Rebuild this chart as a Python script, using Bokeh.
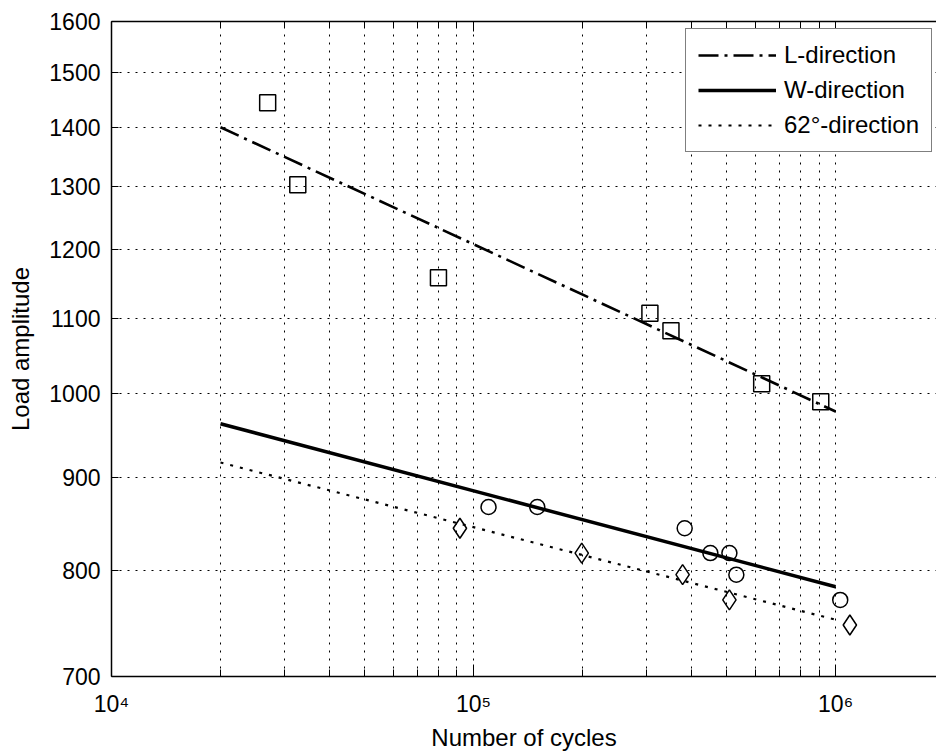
from bokeh.plotting import figure
from bokeh.models import Range1d, FixedTicker, LogAxis, CustomJSTickFormatter
from bokeh.embed import file_html
from bokeh.resources import INLINE

# ---- data ----
l_cycles = [27000, 32700, 80000, 307000, 351000, 625000, 910000]
l_load = [1444, 1302, 1158, 1107, 1083, 1013, 990]

w_cycles = [110000, 150000, 383000, 451000, 509000, 532000, 1030000]
w_load = [867, 867, 844, 818, 818, 796, 771]

d_cycles = [91700, 199000, 378000, 509000, 1095000]
d_load = [844, 818, 796, 771, 747]

fit_cycles = [2e4, 1e6]
l_fit = [1400, 978]
w_fit = [963, 784]
d_fit = [917, 752]

x_major = [1e4, 1e5, 1e6]
x_minor = [m * 10 ** e for e in (4, 5, 6) for m in range(2, 10)]
y_ticks = [700, 800, 900, 1000, 1100, 1200, 1300, 1400, 1500, 1600]

FONT = "Liberation Sans"

p = figure(width=936, height=753, x_axis_type="log", y_axis_type="log",
           x_range=Range1d(1e4, 1.9e6), y_range=Range1d(700, 1600),
           output_backend="svg", toolbar_location=None,
           min_border_left=111, min_border_right=0, min_border_top=21,
           min_border_bottom=77, outline_line_color=None,
           background_fill_color="white", border_fill_color="white")

xticker = FixedTicker(ticks=x_major, minor_ticks=x_minor)
yticker = FixedTicker(ticks=y_ticks, minor_ticks=[])

xf = CustomJSTickFormatter(code="""
const e = Math.round(Math.log10(tick));
const sup = {3: '\\u00b3', 4: '\\u2074', 5: '\\u2075', 6: '\\u2076', 7: '\\u2077'};
return '10' + sup[e];
""")

xa = p.xaxis[0]
xa.ticker = xticker
xa.formatter = xf
xa.axis_label = "Number of cycles"
ya = p.yaxis[0]
ya.ticker = yticker
ya.formatter = CustomJSTickFormatter(code="return tick.toFixed(0);")
ya.axis_label = "Load amplitude"

for ax in (xa, ya):
    ax.axis_line_color = "black"
    ax.axis_line_width = 1.5
    ax.major_tick_line_color = "black"
    ax.minor_tick_line_color = "black"
    ax.major_label_text_font = FONT
    ax.major_label_text_font_size = "23px"
    ax.major_label_text_color = "black"
    ax.axis_label_text_font = FONT
    ax.axis_label_text_font_size = "24px"
    ax.axis_label_text_font_style = "normal"
    ax.axis_label_text_color = "black"
    ax.major_tick_out = 0
    ax.minor_tick_out = 0

xa.major_tick_in = 12
xa.minor_tick_in = 7
xa.major_label_standoff = 14
xa.axis_label_standoff = 4
ya.major_tick_in = 7
ya.minor_tick_in = 0
ya.major_label_standoff = 11
ya.axis_label_standoff = 12

top = LogAxis(ticker=xticker, major_label_text_font_size="2px",
              major_label_text_alpha=0.0,
              major_tick_in=10, major_tick_out=0, minor_tick_in=6,
              minor_tick_out=0, axis_line_width=1.5, axis_line_color="black",
              major_tick_line_color="black", minor_tick_line_color="black",
              major_label_standoff=0)
p.add_layout(top, "above")

p.xgrid.ticker = xticker
p.ygrid.ticker = yticker
for g in (p.xgrid, p.ygrid):
    g.grid_line_color = "black"
    g.grid_line_dash = "2 6"
    g.grid_line_width = 1
    g.grid_line_alpha = 1.0
p.xgrid.minor_grid_line_color = "black"
p.xgrid.minor_grid_line_dash = "2 6"
p.xgrid.minor_grid_line_width = 1
p.xgrid.minor_grid_line_alpha = 1.0

# fitted lines
p.line(fit_cycles, l_fit, line_color="black", line_width=2.6,
       line_dash="20 6 3 6", legend_label="L-direction")
p.line(fit_cycles, w_fit, line_color="black", line_width=3.5,
       legend_label="W-direction")
p.line(fit_cycles, d_fit, line_color="black", line_width=2.2,
       line_dash="3 7", legend_label="62°-direction")

# test points
p.scatter(l_cycles, l_load, marker="square", size=16, fill_color=None,
          line_color="black", line_width=1.5)
p.scatter(w_cycles, w_load, marker="circle", size=15, fill_color=None,
          line_color="black", line_width=1.5)
p.scatter(d_cycles, d_load, marker="diamond", size=20, fill_color=None,
          line_color="black", line_width=1.5)

lg = p.legend[0]
lg.location = (574, 524)
lg.label_text_font = FONT
lg.label_text_font_size = "24px"
lg.label_text_color = "black"
lg.glyph_width = 78
lg.glyph_height = 28
lg.label_height = 28
lg.label_standoff = 8
lg.spacing = 7
lg.padding = 12
lg.margin = 0
lg.border_line_color = "black"
lg.border_line_width = 1
lg.background_fill_color = "white"
lg.background_fill_alpha = 1.0

open("out.html", "w").write(file_html(p, INLINE))
